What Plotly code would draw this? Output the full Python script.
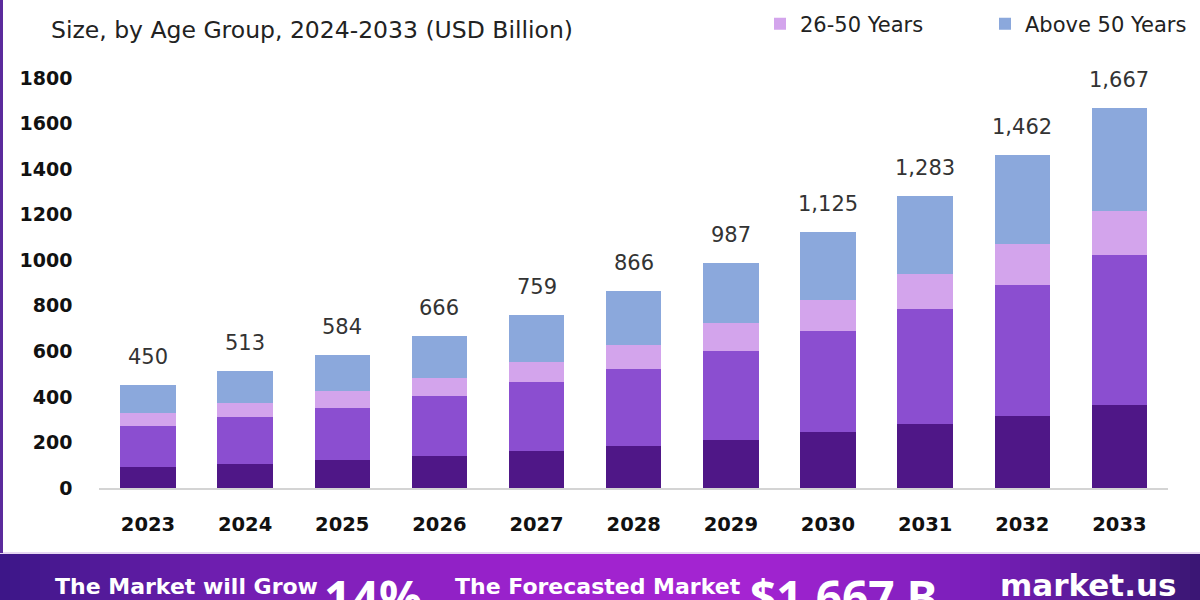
import plotly.graph_objects as go

years = ["2023", "2024", "2025", "2026", "2027", "2028", "2029", "2030", "2031", "2032", "2033"]
totals = [450, 513, 584, 666, 759, 866, 987, 1125, 1283, 1462, 1667]
total_labels = ["450", "513", "584", "666", "759", "866", "987", "1,125", "1,283", "1,462", "1,667"]
below_18 = [93, 106, 125, 141, 164, 186, 211, 244, 281, 317, 364]
age_18_25 = [179, 204, 228, 263, 300, 336, 390, 444, 503, 575, 657]
age_26_50 = [57, 61, 74, 81, 90, 105, 122, 137, 156, 178, 196]
above_50 = [t - a - b - c for t, a, b, c in zip(totals, below_18, age_18_25, age_26_50)]

series_names = ["Below 18 Years", "18-25 Years", "26-50 Years", "Above 50 Years"]
series_values = [below_18, age_18_25, age_26_50, above_50]
series_colors = ["#4f1787", "#8b4ed0", "#d3a4ec", "#8ba8dc"]
series_in_legend = [False, False, True, True]

y_ticks = [0, 200, 400, 600, 800, 1000, 1200, 1400, 1600, 1800]

W, H = 1200, 600
def px(x):
    return x / W
def py(y):
    return 1 - y / H

FONT = "DejaVu Sans"
FONT2 = "Noto Sans"

fig = go.Figure()
for name, vals, col, show in zip(series_names, series_values, series_colors, series_in_legend):
    fig.add_trace(go.Bar(
        x=years, y=vals, name=name, marker=dict(color=col, line=dict(width=0)),
        showlegend=show, hoverinfo="x+y+name",
    ))

annotations = []
for i, (tot, lab) in enumerate(zip(totals, total_labels)):
    annotations.append(dict(
        x=i, y=tot, xref="x", yref="y", text=lab, showarrow=False,
        yanchor="middle", yshift=28, font=dict(family=FONT, size=21, color="#333333"),
    ))

# Title (second line visible)
annotations.append(dict(
    x=px(49), y=py(30), xref="paper", yref="paper", xanchor="left", yanchor="middle",
    text="Size, by Age Group, 2024-2033 (USD Billion)", showarrow=False,
    font=dict(family=FONT, size=23.5, color="#222222"),
))

# Banner texts
banner_txt = [
    (53, 586, "middle", "The Market will Grow", 22, FONT),
    (322, 563, "top", "14%", 48, FONT2),
    (453, 586, "middle", "The Forecasted Market", 22, FONT),
    (748, 563, "top", "$1,667 B", 46, FONT2),
    (998, 585, "middle", "market.us", 31, FONT),
]
for x, y, ya, t, s, f in banner_txt:
    annotations.append(dict(
        x=px(x), y=py(y), xref="paper", yref="paper", xanchor="left", yanchor=ya,
        text="<b>" + t + "</b>", showarrow=False,
        font=dict(family=f, size=s, color="#ffffff"),
    ))

shapes = []
# gradient banner made of thin strips
stops = [(0.0, (60, 22, 135)), (0.18, (110, 30, 175)), (0.45, (158, 34, 206)),
         (0.62, (165, 36, 210)), (0.82, (120, 30, 185)), (1.0, (58, 22, 115))]
def grad(t):
    for (t0, c0), (t1, c1) in zip(stops[:-1], stops[1:]):
        if t0 <= t <= t1:
            f = (t - t0) / (t1 - t0)
            return "rgb(%d,%d,%d)" % tuple(round(a + (b - a) * f) for a, b in zip(c0, c1))
    return "rgb(58,22,115)"
N = 120
for i in range(N):
    x0 = i * W / N
    x1 = (i + 1) * W / N + 1
    shapes.append(dict(type="rect", xref="paper", yref="paper", x0=px(x0), x1=px(x1),
                       y0=py(600), y1=py(554), fillcolor=grad((i + 0.5) / N),
                       line=dict(width=0), layer="below"))
shapes.append(dict(type="line", xref="paper", yref="paper", x0=0, x1=1, y0=py(553), y1=py(553),
                   line=dict(color="#e6d6f2", width=2)))
# left purple border
shapes.append(dict(type="rect", xref="paper", yref="paper", x0=0, x1=px(3), y0=py(553), y1=1,
                   fillcolor="#5b2a9c", line=dict(width=0)))

fig.update_layout(
    width=W, height=H,
    margin=dict(l=0, r=0, t=0, b=0, autoexpand=False),
    paper_bgcolor="white", plot_bgcolor="white",
    barmode="stack", bargap=0.43,
    font=dict(family=FONT, color="#111111"),
    xaxis=dict(type="category", domain=[px(99.4), px(1168)], range=[-0.5, len(years) - 0.5],
               showgrid=False, showline=True,
               linecolor="#d4d4d4", linewidth=2, ticks="", ticklabelstandoff=18,
               tickfont=dict(family=FONT, size=19.5, color="#111111", weight="bold"),
               fixedrange=True, automargin=False),
    yaxis=dict(domain=[py(488), py(70)], range=[0, 1835], showgrid=False, showline=False,
               zeroline=False, tickmode="array", tickvals=y_ticks,
               ticktext=[str(v) for v in y_ticks],
               ticks="", ticklabelstandoff=26,
               tickfont=dict(family=FONT, size=19, color="#111111", weight="bold"),
               fixedrange=True, automargin=False),
    legend=dict(orientation="h", x=px(760), y=py(24), xanchor="left", yanchor="middle",
                xref="paper", yref="paper", font=dict(family=FONT, size=21, color="#222222"),
                traceorder="normal", entrywidth=180, bgcolor="rgba(0,0,0,0)"),
    annotations=annotations,
    shapes=shapes,
)

fig.write_html("out.html")
